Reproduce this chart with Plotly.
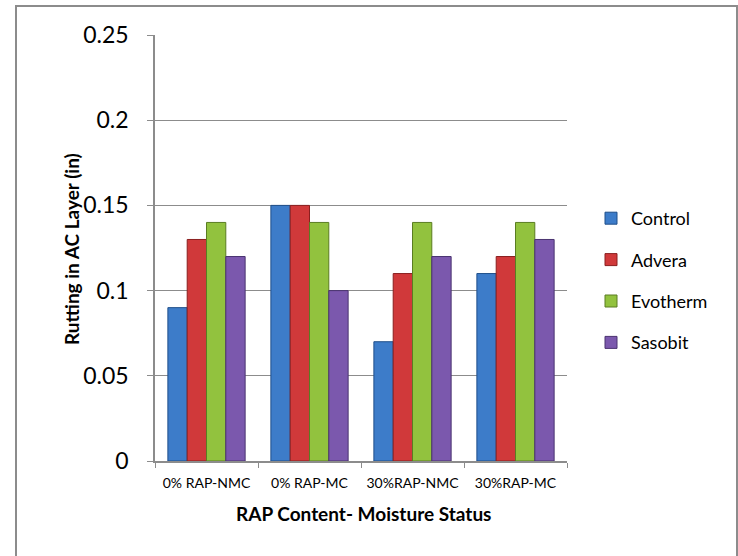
import plotly.graph_objects as go

categories = ["0% RAP-NMC", "0% RAP-MC", "30%RAP-NMC", "30%RAP-MC"]
control = [0.09, 0.15, 0.07, 0.11]
advera = [0.13, 0.15, 0.11, 0.12]
evotherm = [0.14, 0.14, 0.14, 0.14]
sasobit = [0.12, 0.10, 0.12, 0.13]
y_ticks = [0, 0.05, 0.1, 0.15, 0.2, 0.25]
y_tick_text = ["0", "0.05", "0.1", "0.15", "0.2", "0.25"]

series = [
    ("Control", control, "#3d7cc9", "#1f4f8a"),
    ("Advera", advera, "#d0393a", "#8a1f1f"),
    ("Evotherm", evotherm, "#92c23e", "#5a7d22"),
    ("Sasobit", sasobit, "#7b58ad", "#4a3370"),
]

FONT = "Lato, 'Open Sans', sans-serif"
W, H = 738, 556
L, R, T, B = 155, 171, 35, 95

fig = go.Figure()
for name, vals, fill, edge in series:
    fig.add_trace(go.Bar(
        x=categories, y=vals, name=name, legendgroup=name,
        marker=dict(color=fill, line=dict(color=edge, width=1)),
    ))

pw = W - L - R
ph = H - T - B

fig.update_layout(
    width=W, height=H,
    margin=dict(l=L, r=R, t=T, b=B),
    paper_bgcolor="white", plot_bgcolor="white",
    barmode="group", bargap=0.25, bargroupgap=0.0,
    font=dict(family=FONT, color="black"),
    showlegend=True,
    legend=dict(
        x=(591 - L) / pw, y=(461 - 200) / ph, xanchor="left", yanchor="top",
        font=dict(size=18, family=FONT), tracegroupgap=15,
        itemwidth=30, bgcolor="rgba(0,0,0,0)",
    ),
    xaxis=dict(
        showline=True, linecolor="#8c8c8c", linewidth=1.5,
        ticks="outside", tickson="boundaries", ticklen=5, tickcolor="#8c8c8c",
        ticklabelstandoff=8,
        tickfont=dict(size=14, family=FONT),
        showgrid=False,
    ),
    yaxis=dict(
        range=[0, 0.25], tickvals=y_ticks, ticktext=y_tick_text,
        showline=True, linecolor="#8c8c8c", linewidth=1.5,
        ticks="outside", ticklen=6, tickcolor="#8c8c8c",
        ticklabelstandoff=14,
        tickfont=dict(size=23, family=FONT),
        showgrid=True, gridcolor="#8c8c8c", gridwidth=1.2,
        zeroline=False,
    ),
    annotations=[
        dict(text="<b>Rutting in AC Layer (in)</b>", textangle=-90,
             xref="paper", yref="paper",
             x=(72 - L) / pw, y=(461 - 249) / ph,
             xanchor="center", yanchor="middle", showarrow=False,
             font=dict(size=19, family=FONT)),
        dict(text="<b>RAP Content- Moisture Status</b>",
             xref="paper", yref="paper",
             x=(363 - L) / pw, y=(461 - 513) / ph,
             xanchor="center", yanchor="middle", showarrow=False,
             font=dict(size=19, family=FONT)),
    ],
    shapes=[
        dict(type="rect", xref="paper", yref="paper",
             x0=(16 - L) / pw, x1=(737 - L) / pw,
             y0=(461 - 570) / ph, y1=(461 - 6) / ph,
             line=dict(color="#8c8c8c", width=2), layer="below"),
    ],
)

fig.write_html("out.html")
